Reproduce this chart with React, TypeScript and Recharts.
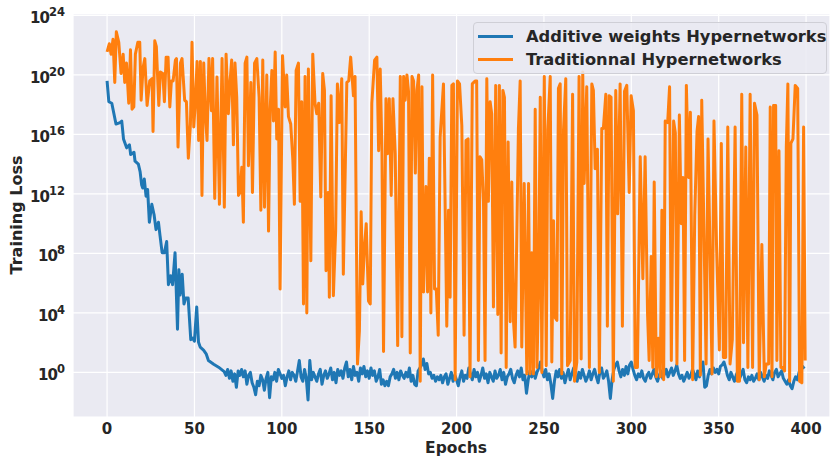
import React from 'react';
import { LineChart, Line, XAxis, YAxis, CartesianGrid } from 'recharts';

// losses are stored as log10 exponents
const blueEarly: [number, number][] = [
  [0, 19.6], [1, 18.2], [2.7, 18.1], [5.1, 16.7], [7.4, 16.8], [8.4, 16.9], [9.4, 15.7],
  [11.2, 15.1], [12.8, 15.3], [13.5, 14.65], [15.4, 14.8], [16, 14.2], [17.9, 14.0],
  [18.9, 13.5], [19.8, 12.6], [20.4, 12.4], [21.3, 13.0], [22.3, 11.85], [23.2, 12.3],
  [24.2, 10.1], [25.6, 11.3], [26.9, 10.6], [28, 9.6], [29.4, 10.1], [30.3, 9.2],
  [31.5, 8.05], [32.8, 8.05], [34.1, 8.8], [35.1, 5.9], [36.4, 6.5], [37.5, 5.9],
  [38.9, 8.05], [40.3, 2.9], [41.1, 6.9], [41.8, 5.2], [43, 6.6], [44, 4.6], [45, 5.0],
  [46.4, 5.0], [47.9, 2.2], [49, 2.3], [50, 2.1], [51.3, 4.4], [52.3, 2.05], [53.3, 1.7],
  [55.2, 1.5], [56.7, 1.25], [58, 0.8], [61, 0.55], [63.8, 0.35], [67, 0.05],
];

// epochs 68..399
const blueLate: number[] = [
  -0.2, 0.2, -0.4, 0.1, -0.6, -0.1, -1.0, 0.1, -0.2, 0.2, -0.3, 0.1,
  -0.8, -0.2, 0.0, -0.7, -1.0, -1.5, -0.6, -0.9, -0.2, -0.5,
  -1.2, -0.4, 0.0, -1.7, -0.3, -0.5, 0.0, -0.6, 0.2, -0.1,
  -0.4, -0.2, -0.9, -0.3, 0.1, -0.5, 0.0, -0.2, -0.6, 0.1,
  0.8, -0.3, -0.6, 0.2, -0.4, -1.85, 0.8, -0.5, 0.0, -0.3,
  -0.6, -0.1, 0.2, -0.8, -0.2, 0.1, -0.4, -0.1, 0.3, -0.5,
  0.0, -0.7, 0.2, -0.2, 0.1, -0.4, 0.3, 0.7, -0.3, 0.2,
  -0.5, 0.4, -0.2, 0.0, -0.6, 0.3, -0.1, 0.4, -0.3, 0.1,
  -0.4, 0.3, -0.2, 0.1, -0.6, -0.3, 0.2, -0.8, -0.5, -0.9,
  -0.6, -0.9, -0.3, -0.1, 0.2, -0.4, 0.0, -0.5, 0.1, -0.2,
  -0.4, 0.0, -0.3, 0.3, -0.6, -0.2, -0.8, -0.9, 0.1, 0.3,
  0.5, 0.9, 0.2, 0.6, -0.1, 0.0, -0.4, -0.2, -0.6, -0.3,
  -0.5, -0.2, -0.7, -0.3, -0.1, -0.8, -0.4, 0.0, -0.6, -0.2,
  -0.5, -0.9, -0.3, 0.1, -0.6, -0.2, -0.4, 0.3, -0.1, -0.5,
  0.2, -0.3, 0.0, -0.6, -0.2, 0.3, -0.4, -0.1, -0.7, 0.0,
  -0.3, -0.6, 0.1, -0.4, -0.2, 0.2, -0.5, 0.0, -0.8, -0.3,
  -0.1, 0.2, -0.4, -0.7, -0.2, 0.1, -0.3, 0.3, -0.5, -0.2,
  -1.4, -0.5, 0.1, -0.3, 0.2, -0.4, 0.0, 0.3, 0.7, 0.1,
  -0.3, 0.2, -0.5, -0.1, -0.8, -1.75, -0.6, 0.1, -0.3, 0.2,
  -0.4, 0.0, -0.7, -0.2, 0.2, -0.5, -0.1, 0.3, -0.3, -0.6,
  0.0, -0.4, 0.2, -0.2, -0.6, -0.3, 0.1, -0.5, -0.1, 0.2,
  -0.3, -0.7, 0.0, 0.3, -0.4, -0.2, 0.1, -0.6, -1.75, -0.5,
  0.2, 0.5, 0.7, 0.1, -0.3, 0.2, -0.2, 0.4, -0.1, 0.5,
  0.7, 0.2, -0.2, -0.5, -0.1, -0.3, 0.1, -0.4, -0.6, -0.2,
  0.0, -0.4, -0.1, 0.2, -0.3, -0.6, -0.2, 0.1, -0.4, -0.1,
  0.2, -0.3, 0.0, 0.3, -0.2, 0.1, 0.5, -0.1, -0.4, -0.2,
  -0.6, -0.3, 0.0, -0.4, -0.2, 0.2, -0.1, -0.5, 0.1, -0.3,
  0.3, 0.7, -1.0, -0.9, -0.2, 0.2, -0.1, 0.3, 0.0, 0.2,
  -0.1, 0.4, 0.5, 0.7, 0.3, -0.2, -0.5, 0.0, -0.3, -0.6,
  -0.2, 0.1, -0.4, -0.1, 0.2, -0.5, -0.7, -0.3, -0.5, -0.2,
  -0.6, -0.4, -0.1, -0.5, 0.0, -0.3, -0.6, -0.2, -0.4, 0.1,
  -0.2, -0.5, 0.0, 0.2, -0.3, -0.1, 0.1, -0.4, -0.6, -0.8,
  -0.5, -0.9, -1.1, -0.6, -0.3, -0.5, 0.0, 0.3, 0.4, 0.25,
];

const orangePts: [number, number][] = [
  [0, 21.55], [1.3, 22.1], [2.3, 21.4], [3.4, 22.4], [4.4, 19.5], [5.3, 22.9], [6.7, 22.2],
  [8, 20.1], [9.2, 21.4], [10.1, 19.5], [11.1, 20.8], [12.4, 18.1], [13.4, 21.7], [14.3, 17.7],
  [15.3, 17.85], [16.2, 21.4], [17.6, 22.2], [18.7, 22.2], [19.5, 18.3], [20.6, 20.5],
  [21.6, 21.1], [22.9, 17.95], [24.4, 19.6], [25.8, 19.75], [26.3, 16.2], [27.3, 22.3],
  [28.2, 21.9], [29.6, 17.95], [30.5, 20.2], [31.9, 20.1], [32.8, 18.2], [33.8, 21.2],
  [34.9, 21.2], [35.9, 17.85], [36.8, 19.6], [37.8, 19.6], [39.1, 21.0], [39.7, 21.1],
  [40.6, 15.15], [42, 20.8], [42.9, 21.1], [44.4, 18.3], [45.4, 18.2], [46.5, 14.4],
  [47.7, 16.7], [48.6, 22.2], [49.6, 16.5], [50.5, 18.1], [51.5, 20.9], [52.4, 15.6],
  [53.4, 20.9], [54.3, 11.9], [55.3, 20.8], [56.2, 17.5], [57.2, 15.6], [58.3, 21.1],
  [59.7, 17.6], [60.4, 21.1], [61.6, 11.7], [62.9, 19.86],
  [64.3, 11.3], [65.8, 21.1], [67.1, 11.1], [68.1, 21.4], [69.4, 17.4], [70.4, 19.6],
  [71.3, 21.0], [72.3, 15.3], [73.2, 20.8], [74.2, 18.5], [75.2, 11.9], [76.1, 12.1],
  [77.1, 13.8], [78, 10.1], [79, 20.8], [80, 21.2], [80.9, 13.9], [82.3, 19.5], [83.2, 12.1],
  [84.4, 20.8], [85.7, 21.1], [87, 18.5], [88, 10.9], [89.1, 21.0], [90.1, 11.1], [91.4, 20.0],
  [92.4, 9.5], [93.3, 17.6], [94.3, 20.3], [95.2, 16.9], [96.2, 21.55], [97.1, 15.7],
  [98.1, 17.7], [99, 5.6], [100.4, 21.3], [101.9, 17.85], [102.8, 20.0], [103.8, 17.2],
  [105.1, 16.7], [106.3, 14.3], [107.2, 11.3], [108.2, 20.3], [109.5, 20.8], [110.5, 11.5],
  [111.4, 18.2], [112.4, 4.6], [113.3, 19.9], [114.3, 4.0], [115.2, 20.4], [116.6, 7.5],
  [117.7, 21.4], [119, 18.1], [120, 17.4], [121.1, 18.1], [122.3, 11.8], [123.4, 20.1],
  [124.4, 18.96], [125.3, 6.84], [126.5, 12.1], [127.2, 5.05], [128.2, 18.6], [129.5, 5.16],
  [130.8, 9.5], [131.8, 19.4], [132.9, 16.8], [134.3, 19.75], [135.2, 6.6],
  [137.2, 19.5], [138.3, 19.6], [139.4, 21.2], [141, 18.6], [141.9, 19.9], [143.3, 0.56],
  [144.4, 2.8], [145.4, 10.8], [146.3, 5.95], [147.3, 8.4], [148.3, 10.0], [149.6, 4.8],
  [150.6, 4.6], [151.5, 18.1], [153.1, 21.0], [154.4, 21.2], [155.4, 14.9], [156.3, 20.4],
  [157.3, 14.9], [158.2, 1.4], [159.6, 18.4], [160.5, 14.7], [161.5, 18.4], [162.6, 11.9],
  [163.6, 18.4], [164.9, 14.7], [166.3, 1.8], [167.8, 19.9], [168.7, 2.4], [169.7, 19.9],
  [170.6, 18.3], [171.6, 20.0], [172.5, 18.9], [173.5, 1.3], [174.5, 19.9], [175.4, 19.6],
  [176.4, 13.4], [177.3, 18.96], [178.3, 20.0], [179.2, -0.6], [180.2, 19.2], [181.1, 5.4],
  [182.5, 12.5], [183.4, 5.4], [184.4, 14.4], [185.3, 4.0], [186.3, 20.0], [187.4, 5.6],
  [188.4, 5.6], [189.5, 2.5], [190.6, 15.8], [192.5, 19.4], [193.5, 10.9], [194.4, 3.1],
  [195.4, 10.9], [196.3, 5.05], [197.3, 19.3], [198.2, 19.4], [199.2, -0.5], [200.5, 19.6],
  [201.7, 19.4], [203, 16.6], [204.3, 2.5],
  [205.4, 15.6], [206.6, 15.7], [207.7, -0.3], [209, 19.4], [210.6, 19.6], [211.5, 19.6],
  [212.5, 0.8], [213.4, 14.5], [214.4, 14.3], [215.4, 11.5], [216.3, 0.8], [217.3, 19.75],
  [218.2, 11.5], [219.2, 18.2], [220.1, 17.4], [221.1, 4.4], [222.4, 19.3], [223.6, 3.9],
  [224.5, 19.3], [225.5, 1.3], [226.5, 18.96], [227.4, 18.5], [228.4, 0.33], [229.5, 15.5],
  [230.7, 3.4], [231.6, 12.8], [232.6, 3.4], [233.5, 1.7], [235.4, 16.4], [236.4, 19.6],
  [237.3, 1.7], [238.7, 12.7], [240.2, -0.1], [241.2, 12.7], [242.1, -0.1], [243.1, 8.05],
  [244, -0.1], [245, 17.7], [246, 0.33], [246.9, 5.3], [247.9, 18.5], [248.8, 0],
  [250.2, 19.9], [251.3, 0.45], [252.2, 16.3], [253.6, 19.9], [254.5, 0.7], [255.5, 10.2],
  [256.4, 3.7], [257.4, 3.5], [258.3, 19.1], [259.3, 19.4], [260.2, -0.1], [261.2, 16.3],
  [262.5, 19.75], [263.5, 0.45], [265, 0.8], [266.4, 18.7], [267.5, -0.6], [268.8, 0.7],
  [270.1, 19.9], [271.3, 0.9], [272.2, 20.2],
  [273, 12.7], [274.5, 19.2], [276, 0.33], [277.4, 19.4], [278.3, 18.96], [279.3, 13.7],
  [280.6, 15.0], [281.7, 0], [283.1, 16.4], [284, 16.4], [285.4, 18.7], [286.3, 3.1],
  [287.3, 18.6], [288.4, 18.5], [289.7, -0.6], [291.1, 18.96], [292.2, 10.66], [293.6, 19.4],
  [294.9, 3.1], [296.1, 18.9], [297.4, 19.3], [298.8, 12.1], [299.9, 18.6], [301.2, 17.6],
  [302.2, 0.33], [303.5, 0.33], [305.1, 14.5], [306.6, 6.3], [307.9, 14.5], [309.3, 3.9],
  [310.2, 0.8], [311.4, 7.8], [312.3, 0.33], [313.1, 12.8], [314.3, -0.3], [315.6, 2.3],
  [316.6, -0.3], [317.5, 10.9], [318.5, -0.5], [319.4, 16.9], [320.8, 16.8], [321.9, 19.2],
  [322.9, 0.8], [324.2, 16.9], [325.2, 16.1], [326.1, 0.56], [327.5, 17.3], [328.6, 10.0],
  [329.6, 13.1], [330.5, 0.8], [331.5, 19.3], [332.8, 13.1], [333.8, 17.5], [335.1, -0.5],
  [336.3, 10.55], [337.6, 16.2], [338.5, 17.2], [339.5, -0.2],
  [340.3, 18.3], [341.6, 9.3], [342.8, 0.56], [343.9, 15.7], [345, 8.4], [346.2, -0.1],
  [347.3, 16.9], [348.8, 8.4], [350.4, 1.5], [351.5, 15.4], [352.7, 1.0], [354, 1.0],
  [355.2, 16.5], [356.5, 0.56], [357.8, 2.2], [359.4, 16.5], [360.7, -0.6], [361.9, -0.6],
  [363.2, 18.7], [364.2, 2.0], [365.5, 15.15], [366.7, 0.33], [368, 18.7], [369.4, 0.33],
  [370.5, 18.1], [371.9, 17.3], [373.2, -0.5], [374.7, 8.6], [376.1, -0.3], [377.2, 0.56],
  [378.6, 0.56], [379.5, 17.85], [380.5, -0.3], [381.4, 17.95], [382.6, 17.95], [383.3, 0.8],
  [384.5, 14.9], [385.6, 0.33], [386.6, 0.33], [387.7, 0.1], [388.7, 15.15], [389.6, 19.4],
  [390.6, -0.6], [391.3, 15.4], [392.5, 15.7], [393.8, 19.3], [395.2, 19.1], [396.3, -0.6],
  [397.6, -0.7], [398.6, 16.5], [399.5, 0.8],
];

const xTicks = [0, 50, 100, 150, 200, 250, 300, 350, 400];
const yExps = [0, 4, 8, 12, 16, 20, 24];

const BLUE = '#1f77b4';
const ORANGE = '#ff7f0e';
const TEXT = '#262626';
const FONT = '"DejaVu Sans", sans-serif';

const blueData = [
  ...blueEarly.map(([epoch, e]) => ({ epoch, loss: Math.pow(10, e) })),
  ...blueLate.map((e, i) => ({ epoch: 68 + i, loss: Math.pow(10, e) })),
];
const orangeData = orangePts.map(([epoch, e]) => ({ epoch, loss: Math.pow(10, e) }));

const YTick = (props: any) => {
  const { x, y, payload } = props;
  const exp = Math.round(Math.log10(payload.value));
  return (
    <text x={x} y={y + 8} textAnchor="end" fill={TEXT} fontFamily={FONT} fontWeight="bold" fontSize={15}>
      <tspan letterSpacing={-1}>10</tspan>
      <tspan dy={-7} fontSize={11.5}>{exp}</tspan>
    </text>
  );
};

const XTick = (props: any) => {
  const { x, y, payload } = props;
  return (
    <text x={x} y={y + 12} textAnchor="middle" fill={TEXT} fontFamily={FONT} fontWeight="bold" fontSize={15}>
      {payload.value}
    </text>
  );
};

const legendItems = [
  { name: 'Additive weights Hypernetworks', color: BLUE },
  { name: 'Traditionnal Hypernetworks', color: ORANGE },
];

export default function App() {
  return (
    <div style={{ position: 'absolute', left: 0, top: 0, width: 830, height: 457, background: '#fff' }}>
      <LineChart width={830} height={457} margin={{ top: 14, right: 0, bottom: 0, left: 0 }}>
        <CartesianGrid fill="#eaeaf2" stroke="#ffffff" strokeWidth={1.2} />
        <XAxis
          type="number"
          dataKey="epoch"
          domain={[-19.5, 413.7]}
          allowDataOverflow
          ticks={xTicks}
          height={40}
          axisLine={false}
          tickLine={false}
          tickSize={0}
          tickMargin={5}
          tick={<XTick />}
          label={{
            content: () => (
              <text x={456} y={453} textAnchor="middle" fill={TEXT} fontFamily={FONT} fontWeight="bold" fontSize={15.5}>
                Epochs
              </text>
            ),
          }}
        />
        <YAxis
          scale="log"
          dataKey="loss"
          domain={[1e-3, Math.pow(10, 24.1)]}
          allowDataOverflow
          ticks={yExps.map((e) => Math.pow(10, e))}
          width={73}
          axisLine={false}
          tickLine={false}
          tick={<YTick />}
          label={{
            content: () => (
              <text
                x={22}
                y={215}
                transform="rotate(-90 22 215)"
                textAnchor="middle"
                fill={TEXT}
                fontFamily={FONT}
                fontWeight="bold"
                fontSize={16}
              >
                Training Loss
              </text>
            ),
          }}
        />
        <Line
          data={blueData}
          dataKey="loss"
          name="Additive weights Hypernetworks"
          stroke={BLUE}
          strokeWidth={3}
          strokeLinejoin="round"
          dot={false}
          isAnimationActive={false}
        />
        <Line
          data={orangeData}
          dataKey="loss"
          name="Traditionnal Hypernetworks"
          stroke={ORANGE}
          strokeWidth={3}
          strokeLinejoin="round"
          dot={false}
          isAnimationActive={false}
        />
      </LineChart>
      <div
        style={{
          position: 'absolute',
          left: 473,
          top: 22,
          boxSizing: 'border-box',
          width: 354,
          height: 52,
          border: '1px solid #cfcfd6',
          borderRadius: 4,
          background: 'rgba(234,234,242,0.85)',
          padding: '2px 0 0 4px',
          fontFamily: FONT,
          fontWeight: 'bold',
          fontSize: 16.3,
          color: TEXT,
          whiteSpace: 'nowrap',
        }}
      >
        {legendItems.map((it) => (
          <div key={it.name} style={{ display: 'flex', alignItems: 'center', height: 23 }}>
            <div style={{ width: 35, height: 3, background: it.color, marginRight: 13, flex: 'none' }} />
            <span>{it.name}</span>
          </div>
        ))}
      </div>
    </div>
  );
}
